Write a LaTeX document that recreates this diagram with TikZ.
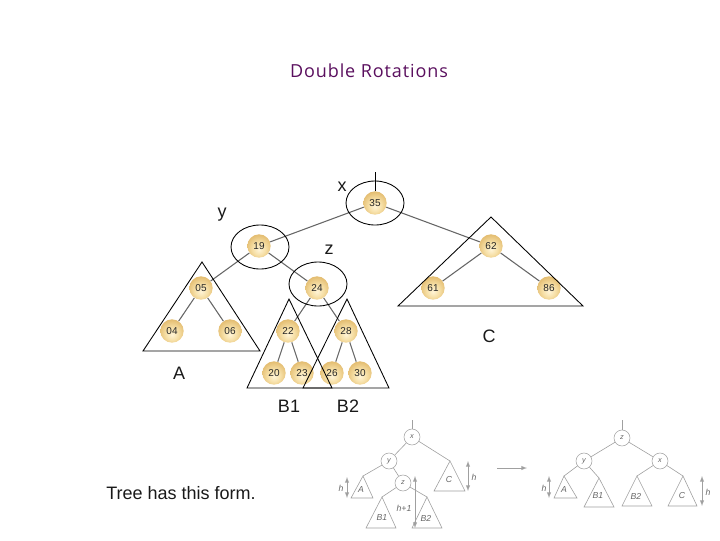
\documentclass[tikz,border=0pt]{standalone}
\usepackage{fontspec}
\setmainfont{Liberation Sans}
\newfontfamily\titlefont[LetterSpace=5]{Open Sans}
\usepackage{xcolor}
\usepackage{tikz}
\usetikzlibrary{arrows,shapes,decorations}
\definecolor{titlepurple}{HTML}{5A0F5E}
\definecolor{sketchgray}{HTML}{A0A0A0}
\definecolor{ballcore}{HTML}{FFF4D6}
\definecolor{balllight}{HTML}{F6DFA6}
\definecolor{ballmid}{HTML}{E2BA6C}
\definecolor{balldark}{HTML}{B5883A}
\definecolor{ballrim}{HTML}{EAD29C}
\pgfdeclareradialshading{goldball}{\pgfpoint{0bp}{-8bp}}{%
  color(0bp)=(ballcore);
  color(14bp)=(balllight);
  color(30bp)=(ballmid);
  color(44bp)=(balldark);
  color(48bp)=(ballrim);
  color(58bp)=(balldark)}
\tikzset{
  treeball/.style={circle, minimum size=17.5pt, inner sep=0pt, shading=goldball,
    font=\fontsize{7.5}{9}\selectfont, text=black!85},
  treelink/.style={draw=black!60, line width=.8pt},
  overlay line/.style={draw=black, line width=.65pt},
  biglabel/.style={font=\fontsize{13.5}{16}\selectfont, text=black!90},
  sketchnode/.style={circle, draw=sketchgray, minimum size=12pt, inner sep=0pt, fill=white,
    font=\fontsize{5.5}{6}\selectfont\itshape, text=black!60},
  sketchline/.style={draw=sketchgray, line width=.45pt},
  sketchlabel/.style={font=\fontsize{6.5}{7}\selectfont\itshape, text=black!60},
}
\begin{document}
\begin{tikzpicture}[x=.75pt, y=-.75pt]
                        \useasboundingbox (0,0) rectangle (720,540);
                        \node[text=titlepurple, font=\titlefont\fontsize{13.5}{16}\selectfont]
                        (title) at (369,71) {Double Rotations};
                        % the tree
                        \node[treeball] (n35) at (375,203) {35};
                        \node[treeball] (n19) at (259,246) {19};
                        \node[treeball] (n62) at (491,246) {62};
                        \node[treeball] (n05) at (201,288) {05};
                        \node[treeball] (n24) at (317,288) {24};
                        \node[treeball] (n61) at (433,288) {61};
                        \node[treeball] (n86) at (549,288) {86};
                        \node[treeball] (n04) at (172,331) {04};
                        \node[treeball] (n06) at (230,331) {06};
                        \node[treeball] (n22) at (288,331) {22};
                        \node[treeball] (n28) at (346,331) {28};
                        \node[treeball] (n20) at (274,373) {20};
                        \node[treeball] (n23) at (302,373) {23};
                        \node[treeball] (n26) at (332,373) {26};
                        \node[treeball] (n30) at (360,373) {30};
                        \draw[treelink] (n35) -- (n19);
                        \draw[treelink] (n35) -- (n62);
                        \draw[treelink] (n19) -- (n05);
                        \draw[treelink] (n19) -- (n24);
                        \draw[treelink] (n05) -- (n04);
                        \draw[treelink] (n05) -- (n06);
                        \draw[treelink] (n24) -- (n22);
                        \draw[treelink] (n24) -- (n28);
                        \draw[treelink] (n22) -- (n20);
                        \draw[treelink] (n22) -- (n23);
                        \draw[treelink] (n28) -- (n26);
                        \draw[treelink] (n28) -- (n30);
                        \draw[treelink] (n62) -- (n61);
                        \draw[treelink] (n62) -- (n86);
                        % rings and triangles on top
                        \draw[overlay line] (375,203) ellipse (29 and 22);
                        \draw[overlay line] (260,247) ellipse (29 and 22);
                        \draw[overlay line] (318,284) ellipse (29 and 22);
                        \coordinate (rootup) at (375,172);
                        \draw[overlay line] (rootup) -- (375,191);
                        \draw[overlay line] (202,262) -- (143,351) -- (260,351) -- cycle;
                        \draw[overlay line] (289,299) -- (247,388) -- (332,388) -- cycle;
                        \draw[overlay line] (347,299) -- (303,388) -- (389,388) -- cycle;
                        \draw[overlay line] (491,217) -- (398,306) -- (583,306) -- cycle;
                        \node[biglabel] (lblx) at (342,187) {x};
                        \node[biglabel] (lbly) at (222,215) {y};
                        \node[biglabel] (lblz) at (329,250) {z};
                        \node[biglabel] (lblc) at (489,336) {C};
                        \node[biglabel] (lbla) at (179,373) {A};
                        \node[biglabel] (lblbone) at (289,406) {B1};
                        \node[biglabel] (lblbtwo) at (348,406) {B2};
                        \node[biglabel] (lbltree) at (181,493) {Tree has this form.};
                        % small sketch, before
                        \coordinate (stopl) at (412,420);
                        \node[sketchnode] (sx) at (412,437) {x};
                        \node[sketchnode] (sy) at (389,461) {y};
                        \node[sketchnode] (sz) at (403,483) {z};
                        \coordinate (sa) at (363,476);
                        \coordinate (sc) at (450,461);
                        \coordinate (sbone) at (382,497);
                        \coordinate (sbtwo) at (427,497);
                        \draw[sketchline] (stopl) -- (sx);
                        \draw[sketchline] (sx) -- (sy);
                        \draw[sketchline] (sx) -- (sc);
                        \draw[sketchline] (sy) -- (sa);
                        \draw[sketchline] (sy) -- (sz);
                        \draw[sketchline] (sz) -- (sbone);
                        \draw[sketchline] (sz) -- (sbtwo);
                        \draw[sketchline] (sa) -- (351,498) -- (373,498) -- cycle;
                        \draw[sketchline] (sc) -- (434,491) -- (465,491) -- cycle;
                        \draw[sketchline] (sbone) -- (366,528) -- (396,528) -- cycle;
                        \draw[sketchline] (sbtwo) -- (412,528) -- (442,528) -- cycle;
                        \draw[sketchline, <->, >=latex] (347,477) -- (347,498);
                        \draw[sketchline, <->, >=latex] (468,461) -- (468,491);
                        \draw[sketchline, <->, >=latex] (415,476) -- (415,528);
                        \node[sketchlabel] (sla) at (361,490) {A};
                        \node[sketchlabel] (slc) at (449,480) {C};
                        \node[sketchlabel] (slbone) at (382,518) {B1};
                        \node[sketchlabel] (slbtwo) at (426,518) {B2};
                        \node[sketchlabel] (slh) at (341,488) {h};
                        \node[sketchlabel] (slhr) at (474,477) {h};
                        \node[sketchlabel] (slhp) at (404,508) {h+1};
                        % arrow between the sketches
                        \coordinate (arrfrom) at (497,468);
                        \coordinate (arrto) at (527,468);
                        \draw[sketchline, ->, >=latex] (arrfrom) -- (arrto);
                        % small sketch, after
                        \coordinate (ttopl) at (622,420);
                        \node[sketchnode] (tz) at (622,438) {z};
                        \node[sketchnode] (ty) at (584,461) {y};
                        \node[sketchnode] (tx) at (660,461) {x};
                        \coordinate (ta) at (564,476);
                        \coordinate (tbone) at (599,478);
                        \coordinate (tbtwo) at (637,476);
                        \coordinate (tc) at (683,476);
                        \draw[sketchline] (ttopl) -- (tz);
                        \draw[sketchline] (tz) -- (ty);
                        \draw[sketchline] (tz) -- (tx);
                        \draw[sketchline] (ty) -- (ta);
                        \draw[sketchline] (ty) -- (tbone);
                        \draw[sketchline] (tx) -- (tbtwo);
                        \draw[sketchline] (tx) -- (tc);
                        \draw[sketchline] (ta) -- (554,498) -- (577,498) -- cycle;
                        \draw[sketchline] (tbone) -- (584,507) -- (614,507) -- cycle;
                        \draw[sketchline] (tbtwo) -- (622,506) -- (652,506) -- cycle;
                        \draw[sketchline] (tc) -- (668,506) -- (697,506) -- cycle;
                        \draw[sketchline, <->, >=latex] (549,476) -- (549,498);
                        \draw[sketchline, <->, >=latex] (702,476) -- (702,506);
                        \node[sketchlabel] (tla) at (564,490) {A};
                        \node[sketchlabel] (tlbone) at (598,496) {B1};
                        \node[sketchlabel] (tlbtwo) at (636,496) {B2};
                        \node[sketchlabel] (tlc) at (682,496) {C};
                        \node[sketchlabel] (tlh) at (544,488) {h};
                        \node[sketchlabel] (tlhr) at (708,492) {h};
                    \end{tikzpicture}
\end{document}
